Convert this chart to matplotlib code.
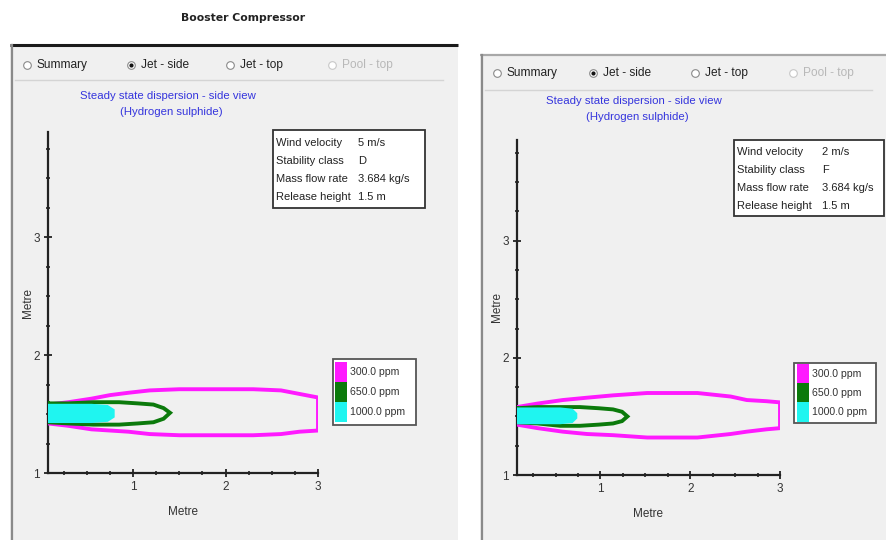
import matplotlib
matplotlib.use("Agg")
import matplotlib.pyplot as plt
from matplotlib.patches import Rectangle

# ---------------- data ----------------
levels = ["300.0 ppm", "650.0 ppm", "1000.0 ppm"]
level_colors = ["#ff1aff", "#0b7a0b", "#1ff5f0"]

x_ticks = [1, 2, 3]
y_ticks = [1, 2, 3]

# Left panel (Wind 5 m/s, class D): contour outlines (x, upper y, lower y)
L_300_x = [0.08, 0.30, 0.55, 0.75, 0.95, 1.18, 1.50, 1.90, 2.30, 2.60, 2.80, 3.00]
L_300_up = [1.58, 1.60, 1.63, 1.66, 1.68, 1.70, 1.71, 1.71, 1.71, 1.70, 1.67, 1.64]
L_300_lo = [1.42, 1.40, 1.37, 1.36, 1.35, 1.33, 1.32, 1.32, 1.32, 1.33, 1.35, 1.36]

L_650_x = [0.08, 0.30, 0.57, 0.85, 1.05, 1.22, 1.33, 1.40]
L_650_up = [1.59, 1.59, 1.60, 1.60, 1.59, 1.58, 1.55, 1.51]
L_650_lo = [1.43, 1.42, 1.41, 1.41, 1.42, 1.43, 1.46, 1.51]

L_1000_x = [0.08, 0.30, 0.55, 0.72, 0.78]
L_1000_up = [1.57, 1.57, 1.57, 1.56, 1.53]
L_1000_lo = [1.44, 1.44, 1.44, 1.45, 1.48]

# Right panel (Wind 2 m/s, class F)
R_300_x = [0.07, 0.30, 0.58, 0.85, 1.14, 1.52, 1.80, 2.08, 2.45, 2.63, 2.85, 3.00]
R_300_up = [1.58, 1.61, 1.64, 1.66, 1.68, 1.70, 1.70, 1.70, 1.67, 1.64, 1.63, 1.62]
R_300_lo = [1.43, 1.40, 1.37, 1.35, 1.34, 1.32, 1.32, 1.32, 1.35, 1.37, 1.39, 1.40]

R_650_x = [0.07, 0.30, 0.55, 0.77, 0.98, 1.14, 1.24, 1.30]
R_650_up = [1.57, 1.58, 1.58, 1.58, 1.57, 1.56, 1.54, 1.50]
R_650_lo = [1.45, 1.44, 1.42, 1.42, 1.43, 1.44, 1.46, 1.50]

R_1000_x = [0.07, 0.30, 0.55, 0.68, 0.72]
R_1000_up = [1.56, 1.56, 1.56, 1.55, 1.52]
R_1000_lo = [1.45, 1.45, 1.45, 1.46, 1.49]

info_labels = ["Wind velocity", "Stability class", "Mass flow rate", "Release height"]
L_info_values = ["5 m/s", "D", "3.684 kg/s", "1.5 m"]
R_info_values = ["2 m/s", "F", "3.684 kg/s", "1.5 m"]

radio_labels = ["Summary", "Jet - side", "Jet - top", "Pool - top"]

W, H = 887, 540
FONT = "Liberation Sans"

fig = plt.figure(figsize=(W / 100, H / 100), dpi=100)
fig.patch.set_facecolor("white")

bg = fig.add_axes([0, 0, 1, 1])
bg.set_xlim(0, W)
bg.set_ylim(H, 0)
bg.axis("off")
bg.set_zorder(0)

PANEL = "#f0f0f0"

# figure title
bg.text(243, 18, "Booster Compressor", ha="center", va="center",
        fontsize=7.8, fontweight="bold", family="DejaVu Sans", color="#222222")


def panel(x0, y0, x1, radio_y, radio_xs, title_cx, title_y, top_col, top_lw, sep_y):
    bg.add_patch(Rectangle((x0, y0), x1 - x0, H - y0, facecolor=PANEL, edgecolor="none"))
    bg.plot([x0, x1], [y0, y0], color=top_col, lw=top_lw, solid_capstyle="butt")
    bg.plot([x0 + 2, x0 + 2], [y0, H], color="#8a8a8a", lw=1.6)
    bg.plot([x0 + 5, x1 - 15], [sep_y, sep_y], color="#d4d4d4", lw=1.0)
    for i, (lab, rx) in enumerate(zip(radio_labels, radio_xs)):
        col = "#b8b8b8" if i == 3 else "#222222"
        bg.plot([rx], [radio_y], marker="o", ms=5.5, mfc="white",
                mec="#8a8a8a" if i < 3 else "#c8c8c8", mew=0.8)
        if i == 1:
            bg.plot([rx], [radio_y], marker="o", ms=2.0, mfc="#111111", mec="#111111")
        bg.text(rx + 10, radio_y, lab, ha="left", va="center", fontsize=8.6,
                family=FONT, color=col)
    bg.text(title_cx, title_y, "Steady state dispersion - side view", ha="center",
            va="center", fontsize=8.2, family=FONT, color="#3535dd")
    bg.text(title_cx + 3, title_y + 16, "(Hydrogen sulphide)", ha="center",
            va="center", fontsize=8.2, family=FONT, color="#3535dd")


panel(10, 45, 458, 65, [27, 131, 230, 332], 168, 96, "#1a1a1a", 2.2, 80)
panel(480, 55, 887, 73, [497, 593, 695, 793], 634, 101, "#a8a8a8", 1.6, 90)


def info_box(x0, y0, x1, y1, rows_y, val_x, values):
    bg.add_patch(Rectangle((x0, y0), x1 - x0, y1 - y0, facecolor="white",
                           edgecolor="#333333", lw=1.3, zorder=3))
    for lab, val, ry in zip(info_labels, values, rows_y):
        bg.text(x0 + 3, ry, lab, ha="left", va="center", fontsize=8.0,
                family=FONT, color="#222222", zorder=4)
        bg.text(val_x, ry, val, ha="left", va="center", fontsize=8.0,
                family=FONT, color="#222222", zorder=4)


info_box(273, 130, 425, 208, [143, 161, 179, 197], 358, L_info_values)
info_box(734, 140, 884, 216, [152, 170, 188, 206], 822, R_info_values)


def legend_box(x0, y0, x1, y1, rows_y, sw_x):
    bg.add_patch(Rectangle((x0, y0), x1 - x0, y1 - y0, facecolor="white",
                           edgecolor="#555555", lw=1.3, zorder=3))
    for lab, col, ry in zip(levels, level_colors, rows_y):
        bg.add_patch(Rectangle((sw_x, ry - 10), 12, 20, facecolor=col,
                               edgecolor="none", zorder=4))
        bg.text(sw_x + 15, ry, lab, ha="left", va="center", fontsize=7.6,
                family=FONT, color="#333333", zorder=4)


legend_box(333, 359, 416, 425, [372, 392, 412], 335)
legend_box(794, 363, 876, 423, [374, 393, 412], 797)


def make_axes(px0, px1, py_top, py_bot, xlim, ylim, curves):
    ax = fig.add_axes([px0 / W, 1 - py_bot / H, (px1 - px0) / W, (py_bot - py_top) / H])
    ax.set_zorder(2)
    ax.patch.set_alpha(0)
    ax.set_xlim(*xlim)
    ax.set_ylim(*ylim)
    for s in ["top", "right"]:
        ax.spines[s].set_visible(False)
    for s in ["left", "bottom"]:
        ax.spines[s].set_linewidth(1.6)
        ax.spines[s].set_color("#222222")
    ax.set_xticks(x_ticks)
    ax.set_yticks(y_ticks)
    ax.set_xticks([v / 4 for v in range(1, 12) if v % 4], minor=True)
    ax.set_yticks([1 + v / 4 for v in range(1, 12) if v % 4], minor=True)
    ax.tick_params(which="major", length=6, width=1.3, direction="inout",
                   labelsize=8.5, color="#222222", pad=3)
    ax.tick_params(which="minor", length=3, width=1.3, direction="inout", color="#333333")
    for lab in ax.get_xticklabels() + ax.get_yticklabels():
        lab.set_family(FONT)
        lab.set_color("#333333")
    for (xs, up, lo), col in zip(curves, level_colors):
        px = list(xs) + list(xs[::-1]) + [xs[0]]
        py = list(up) + list(lo[::-1]) + [up[0]]
        if col == level_colors[2]:
            ax.fill(px, py, facecolor=col, edgecolor=col, lw=2.8, zorder=5)
        else:
            ax.plot(px, py, color=col, lw=2.8, solid_joinstyle="miter", zorder=4)
    ax.set_xlabel("Metre", fontsize=8.5, family=FONT, color="#333333", labelpad=9)
    ax.set_ylabel("Metre", fontsize=8.5, family=FONT, color="#333333")
    ax.yaxis.set_label_coords(-14 / (px1 - px0), 0.5)
    return ax


make_axes(48, 318, 132, 473, (0.08, 3.0), (1.0, 3.89),
          [(L_300_x, L_300_up, L_300_lo), (L_650_x, L_650_up, L_650_lo),
           (L_1000_x, L_1000_up, L_1000_lo)])
make_axes(517, 780, 140, 475, (0.07, 3.0), (1.0, 3.86),
          [(R_300_x, R_300_up, R_300_lo), (R_650_x, R_650_up, R_650_lo),
           (R_1000_x, R_1000_up, R_1000_lo)])

fig.savefig("out.png", dpi=100, facecolor="white")
